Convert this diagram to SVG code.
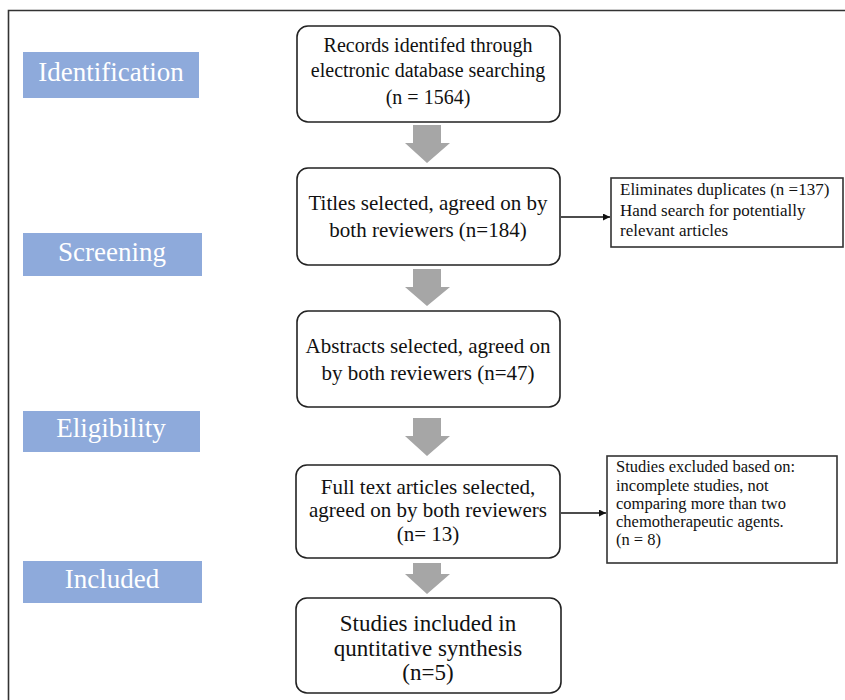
<svg xmlns="http://www.w3.org/2000/svg" width="845" height="700" viewBox="0 0 845 700">
<defs>
<style>
.lbl rect{fill:#8eaadb;stroke:none}
.lbl text{fill:#fff;font-family:"Liberation Serif","Times New Roman",serif;font-size:27px;text-anchor:middle}
.node rect{fill:#fff;stroke:#222;stroke-width:1.6}
.node text{fill:#111;font-family:"Liberation Serif","Times New Roman",serif;font-size:21px;text-anchor:middle}
.node text.s20{font-size:20px}
.node text.s23{font-size:23px}
.side rect{fill:#fff;stroke:#333;stroke-width:1.6}
.side text{fill:#111;font-family:"Liberation Serif","Times New Roman",serif;font-size:16.5px}
.side text.s17{font-size:17px}
.blk{fill:#a6a6a6}
.ln{stroke:#111;stroke-width:1.4;fill:none}
</style>
<marker id="ah" viewBox="0 0 10 10" refX="10" refY="5" markerWidth="7" markerHeight="7" orient="auto" markerUnits="userSpaceOnUse">
<path d="M0,0 L10,5 L0,10 z" fill="#111"/>
</marker>
</defs>
<rect width="845" height="700" fill="#fff"/>
<path d="M8.5,700 V10.5 H845" fill="none" stroke="#333" stroke-width="1.6"/>

<g id="stage-identification" class="lbl"><rect x="23" y="52" width="176" height="46"/><text x="111" y="81">Identification</text></g>
<g id="stage-screening" class="lbl"><rect x="23" y="233" width="179" height="43"/><text x="112" y="261">Screening</text></g>
<g id="stage-eligibility" class="lbl"><rect x="23" y="411" width="177" height="41"/><text x="111" y="437">Eligibility</text></g>
<g id="stage-included" class="lbl"><rect x="23" y="561" width="179" height="42"/><text x="112" y="588">Included</text></g>

<g id="records" class="node"><rect x="297" y="26" width="263" height="96" rx="11"/>
<text class="s20" x="428" y="52">Records identifed through</text>
<text class="s20" x="428" y="77">electronic database searching</text>
<text class="s20" x="428" y="104">(n = 1564)</text></g>

<g id="titles" class="node"><rect x="297" y="168" width="263" height="97" rx="11"/>
<text x="428" y="210">Titles selected, agreed on by</text>
<text x="428" y="237">both reviewers (n=184)</text></g>

<g id="abstracts" class="node"><rect x="297" y="311" width="263" height="96" rx="11"/>
<text x="428" y="353">Abstracts selected, agreed on</text>
<text x="428" y="380">by both reviewers (n=47)</text></g>

<g id="fulltext" class="node"><rect x="296" y="465" width="264" height="93" rx="11"/>
<text x="428" y="494">Full text articles selected,</text>
<text x="428" y="517">agreed on by both reviewers</text>
<text x="428" y="541">(n= 13)</text></g>

<g id="included" class="node"><rect x="296" y="598" width="265" height="95" rx="11"/>
<text class="s23" x="428" y="631">Studies included in</text>
<text class="s23" x="428" y="656">quntitative synthesis</text>
<text class="s23" x="428" y="680">(n=5)</text></g>

<g id="duplicates" class="side"><rect x="611" y="178" width="232" height="69"/>
<text class="s17" x="620" y="195">Eliminates duplicates (n =137)</text>
<text class="s17" x="620" y="216">Hand search for potentially</text>
<text class="s17" x="620" y="236">relevant articles</text></g>

<g id="excluded" class="side"><rect x="607" y="456" width="230" height="107"/>
<text x="616" y="472">Studies excluded based on:</text>
<text x="616" y="491">incomplete studies, not</text>
<text x="616" y="509">comparing more than two</text>
<text x="616" y="527">chemotherapeutic agents.</text>
<text x="616" y="545">(n = 8)</text></g>

<g id="connectors">
<path class="blk" d="M413,125 H441 V143 H450 L427,163 L405,143 H413 Z"/>
<path class="blk" d="M413,269 H441 V287 H450 L427,306 L405,287 H413 Z"/>
<path class="blk" d="M413,418 H441 V436 H450 L427,456 L405,436 H413 Z"/>
<path class="blk" d="M413,563 H441 V574 H450 L427,594 L405,574 H413 Z"/>
<line class="ln" x1="561" y1="217" x2="610" y2="217" marker-end="url(#ah)"/>
<line class="ln" x1="561" y1="513" x2="606" y2="513" marker-end="url(#ah)"/>
</g>
</svg>
